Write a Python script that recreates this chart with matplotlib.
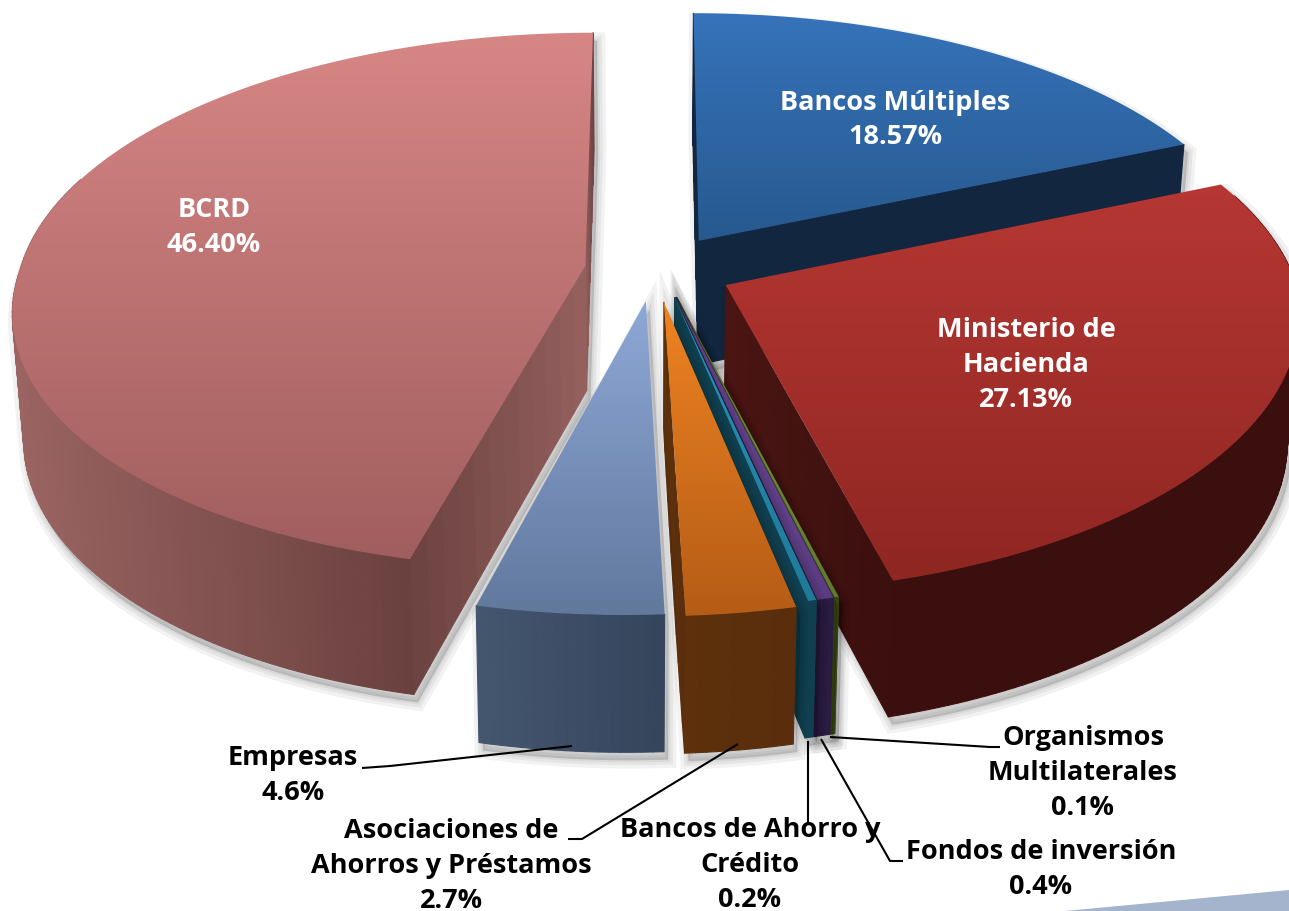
import numpy as np
import matplotlib
matplotlib.use('Agg')
import matplotlib.pyplot as plt
from matplotlib.patches import Polygon
from matplotlib.path import Path
from matplotlib.collections import PolyCollection
from matplotlib.colors import to_rgb

# slices, clockwise from 12 o'clock
names = ['Bancos Múltiples', 'Ministerio de Hacienda', 'Organismos Multilaterales', 'Fondos de inversión',
         'Bancos de Ahorro y Crédito', 'Asociaciones de Ahorros y Préstamos', 'Empresas', 'BCRD']
values = [18.57, 27.13, 0.1, 0.4, 0.2, 2.7, 4.6, 46.40]
explode = [0.13, 0.14, 0.11, 0.11, 0.11, 0.125, 0.12, 0.11]
nudge = [7, 3, 10, 10, 10, 4, 2, -5]
top_hi = ['#3673ba', '#b63733', '#8aa84a', '#6f4a9a', '#2a93b8', '#ee8322', '#8ea8d6', '#d68685']
top_lo = ['#27598f', '#8f2622', '#6f8a35', '#5a3c80', '#1f7a99', '#b55c16', '#62799e', '#a15e5e']
side_hi = ['#12263f', '#4a1512', '#3e5018', '#2a1c42', '#10404f', '#5e310c', '#45566f', '#93605e']
side_lo = ['#12263f', '#3a0f0e', '#3e5018', '#2a1c42', '#10404f', '#5a2e0c', '#35455c', '#6b413f']
outer_left = ['#12263f', '#3a0f0e', '#3e5018', '#2a1c42', '#10404f', '#5e310c', '#45566f', '#9a6462']
draw_order = [0, 1, 7, 2, 3, 4, 5, 6]

# (text, x, y, colour)
labels = [('Bancos Múltiples\n18.57%', 895, 120, 'white'),
          ('BCRD\n46.40%', 214, 228, 'white'),
          ('Ministerio de\nHacienda\n27.13%', 1026, 365, 'white'),
          ('Empresas\n4.6%', 293, 776, 'black'),
          ('Asociaciones de\nAhorros y Préstamos\n2.7%', 451, 866, 'black'),
          ('Bancos de Ahorro y\nCrédito\n0.2%', 750, 865, 'black'),
          ('Organismos\nMultilaterales\n0.1%', 1083, 773, 'black'),
          ('Fondos de inversión\n0.4%', 1041, 870, 'black')]
leaders = [[(362, 769), (390, 767), (572, 747)],
           [(568, 840), (582, 840), (738, 745)],
           [(808, 742), (808, 825)],
           [(821, 740), (890, 862), (903, 862)],
           [(830, 738), (990, 748), (1000, 748)]]

# projection of the pie plane
cx, cy = 652, 270
rx, ry = 565, 264
persp = 0.13
depth = 125
shear = 20


def project(u, v, z=0.0):
    u, v = np.asarray(u), np.asarray(v)
    s = 1 / (1 - persp * v)
    x = cx + rx * u * s * (1 - 0.018 * z) - shear * np.clip(v, 0, None)
    y = cy + ry * v * s + depth * z * s ** 0.6
    return np.column_stack([x, y])


def hull(pts):
    pts = sorted(set(map(tuple, np.round(pts, 2))))
    def half(seq):
        out = []
        for p in seq:
            while len(out) > 1 and ((out[-1][0]-out[-2][0])*(p[1]-out[-2][1]) - (out[-1][1]-out[-2][1])*(p[0]-out[-2][0])) <= 0:
                out.pop()
            out.append(p)
        return out[:-1]
    return np.array(half(pts) + half(pts[::-1]))


def wall(ax, a, b, fracs, c0, c1, z):
    # a, b: top and bottom outline, coloured by fracs along its length
    quads = [[a[i], a[i+1], b[i+1], b[i]] for i in range(len(a) - 1)]
    c0, c1 = np.array(to_rgb(c0)), np.array(to_rgb(c1))
    cols = [c0 + (c1 - c0) * f for f in fracs[:-1]]
    ax.add_collection(PolyCollection(quads, facecolors=cols, edgecolors=cols, linewidths=0.8, zorder=z))


fig = plt.figure(figsize=(12.89, 9.12), dpi=100)
ax = fig.add_axes([0, 0, 1, 1])
ax.set_axis_off()

total = sum(values)
edges = np.cumsum([0] + values) / total * 2 * np.pi
z = 1
for i in draw_order:
    a0, a1 = edges[i], edges[i+1]
    mid = (a0 + a1) / 2
    tu, tv = explode[i] * np.sin(mid) + nudge[i] / rx, -explode[i] * np.cos(mid)
    th = np.linspace(a0, a1, max(int((a1 - a0) * 60), 2) + 1)
    au, av = tu + np.sin(th), tv - np.cos(th)
    tip_t = project([tu], [tv], 0)
    tip_b = project([tu], [tv], 1)
    arc_t = project(au, av, 0)
    arc_b = project(au, av, 1)
    pts = np.vstack([tip_t, arc_t])
    top_path = Path(np.vstack([pts, pts[:1]]))
    # soft shadow
    h = hull(np.vstack([tip_t, tip_b, arc_t, arc_b])) + [4, 8]
    for lw in [12, 7, 3]:
        ax.add_patch(Polygon(h, closed=True, fc=(0, 0, 0, 0.05), ec=(0, 0, 0, 0.05), lw=lw, zorder=z))
    z += 1
    # radial walls, skip the ones facing away
    f = np.linspace(0, 1, 13)
    for k in [0, -1]:
        rt = project(tu + (au[k] - tu) * f, tv + (av[k] - tv) * f, 0)
        rb = project(tu + (au[k] - tu) * f, tv + (av[k] - tv) * f, 1)
        if top_path.contains_point(rb[6]):
            continue
        wall(ax, rt, rb, f, side_hi[i], side_lo[i], z)
        z += 1
    # outer wall, only the near part, darker to the right
    keep = -np.cos(th) > -0.35
    if keep.sum() > 1:
        fx = (arc_t[:, 0] - arc_t[keep, 0].min()) / (np.ptp(arc_t[keep, 0]) + 1e-6)
        wall(ax, arc_t[keep], arc_b[keep], fx[keep], outer_left[i], side_lo[i], z)
    z += 1
    # top face with vertical gradient
    poly = Polygon(pts, closed=True, fc='none', ec='none', transform=ax.transData)
    ax.add_patch(poly)
    c0, c1 = np.array(to_rgb(top_hi[i])), np.array(to_rgb(top_lo[i]))
    grad = np.linspace(0, 1, 64)[:, None, None] * (c1 - c0) + c0
    im = ax.imshow(grad, extent=[pts[:, 0].min(), pts[:, 0].max(), pts[:, 1].max(), pts[:, 1].min()],
                   aspect='auto', zorder=z, interpolation='bilinear')
    im.set_clip_path(poly)
    z += 1

ax.set_xlim(0, 1289)
ax.set_ylim(912, 0)

for line in leaders:
    xs, ys = zip(*line)
    ax.plot(xs, ys, color='black', lw=1.5, zorder=z, solid_capstyle='butt')
z += 1

for txt, x, y, col in labels:
    ax.text(x, y, txt, color=col, ha='center', va='center', fontsize=19.5, fontweight='bold',
            family='Open Sans', linespacing=1.45, zorder=z)

# corner decoration of the slide
ax.add_patch(Polygon([(1065, 912), (1289, 891), (1289, 912)], closed=True, fc='#a3b4cc', ec='none', zorder=z))

fig.savefig('out.png', dpi=100, facecolor='white')
